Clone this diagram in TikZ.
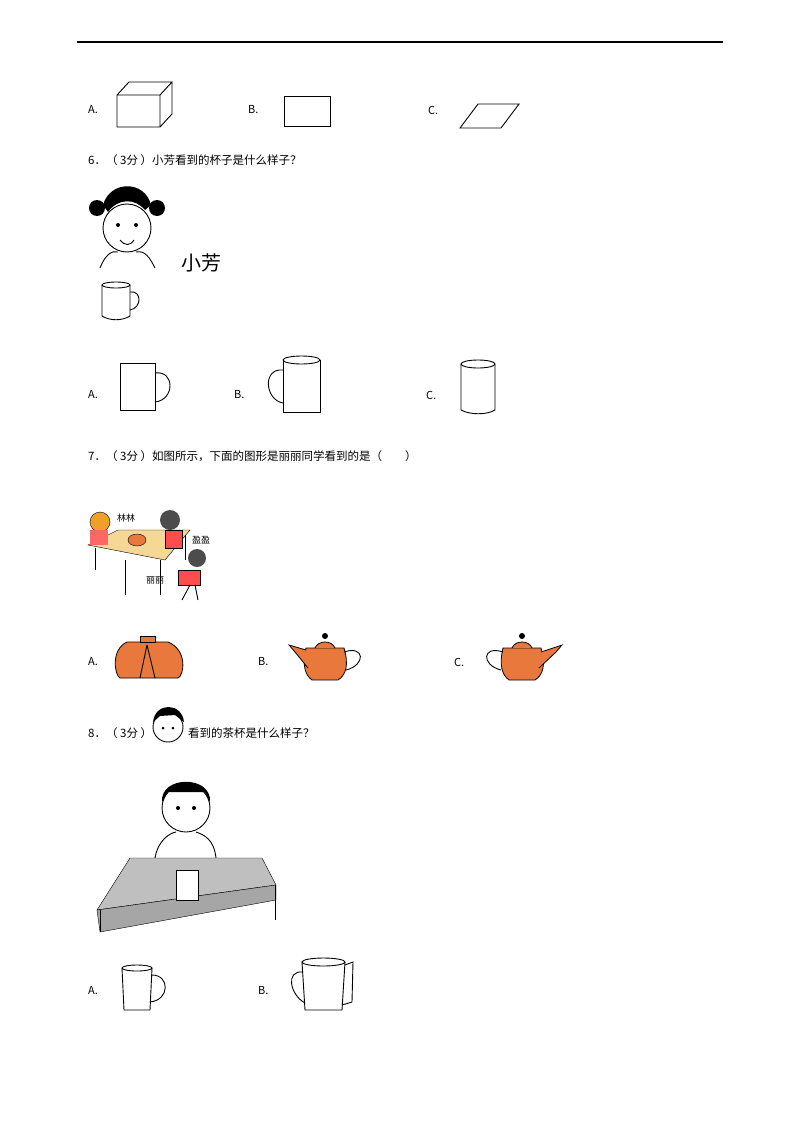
\documentclass[tikz,border=0pt]{standalone}
\usepackage{fontspec}
\setmainfont{Liberation Serif}
\newfontfamily\cjk{Noto Sans CJK SC}
\definecolor{pot}{RGB}{232,120,60}
\definecolor{wood}{RGB}{245,215,150}
\tikzset{lbl/.style={anchor=west,font=\cjk\fontsize{11}{13}\selectfont,inner sep=0},
 q/.style={anchor=west,font=\cjk\fontsize{11.5}{14}\selectfont,inner sep=0},
 ln/.style={line width=0.9pt,black},
 potf/.style={fill=pot,draw=black,line width=0.8pt}}
\begin{document}
\begin{tikzpicture}[x=1pt,y=-1pt]
\useasboundingbox (0,0) rectangle (800,1132);
\draw[line width=1.2pt] (77,42) -- (723,42);
% row 1
\node[lbl] (a1) at (88,110) {A.};
\draw[ln] (117,95) rectangle (160,127) (117,95) -- (129,82) -- (172,82) -- (160,95) (172,82) -- (172,114) -- (160,127);
\node[lbl] (b1) at (248,110) {B.};
\draw[ln] (284,96) rectangle (330,126);
\node[lbl] (c1) at (428,110) {C.};
\draw[ln] (460,128) -- (478,104) -- (519,104) -- (501,128) -- cycle;
% Q6
\node[q] (q6) at (88,160) {6．（ 3分 ）小芳看到的杯子是什么样子？};
\draw[ln] (127,228) circle (24);
\fill (103,205) .. controls (110,180) and (145,180) .. (151,205) -- (145,210) .. controls (135,198) and (118,198) .. (108,212) -- cycle;
\fill (97,208) circle (8) (157,208) circle (8);
\fill (118,225) circle (2) (136,225) circle (2);
\draw[ln] (120,240) .. controls (125,246) and (130,246) .. (134,240);
\draw[ln] (100,268) .. controls (105,255) and (112,250) .. (118,252) (136,252) .. controls (145,250) and (150,258) .. (155,268);
\node[anchor=west,font=\cjk\fontsize{20}{22}\selectfont] (xf) at (178,263) {小芳};
\draw[ln] (102,285) -- (102,316) .. controls (110,321) and (122,321) .. (130,316) -- (130,285);
\draw[ln] (116,285) ellipse (14 and 3);
\draw[ln] (130,292) .. controls (142,290) and (142,308) .. (130,310);
\node[lbl] (a2) at (88,395) {A.};
\draw[ln] (120,363) -- (120,410) -- (155,410) -- (155,363) -- cycle;
\draw[ln] (155,373) .. controls (175,370) and (175,400) .. (155,402);
\node[lbl] (b2) at (234,395) {B.};
\draw[ln] (283,360) -- (283,412) -- (320,412) -- (320,360);
\draw[ln] (301.5,360) ellipse (18.5 and 4);
\draw[ln] (283,370) .. controls (262,368) and (265,400) .. (283,403);
\node[lbl] (c2) at (426,395) {C.};
\draw[ln] (461,364) -- (461,410) .. controls (470,415) and (487,415) .. (495,410) -- (495,364);
\draw[ln] (478,364) ellipse (17 and 4);
% Q7
\node[q] (q7) at (88,456) {7．（ 3分 ）如图所示，下面的图形是丽丽同学看到的是（　　）};
\fill[wood,draw=black] (88,545) -- (118,530) -- (190,530) -- (165,560) -- cycle;
\draw[ln] (95,548) -- (95,570) (160,560) -- (160,595) (125,560) -- (125,595) (185,535) -- (185,560);
\fill[pot,draw=black] (137,540) ellipse (9 and 6);
\fill[pot!70!yellow,draw=black] (100,522) circle (10);
\fill[black!70] (170,520) circle (10);
\fill[red!70,draw=black] (165,530) rectangle (182,548);
\fill[black!70] (197,558) circle (9);
\fill[red!70,draw=black] (178,570) rectangle (200,585);
\draw[ln] (190,585) -- (182,600) (195,585) -- (198,600);
\fill[red!60] (90,530) rectangle (108,545);
\node[lbl,font=\cjk\fontsize{9}{10}\selectfont] (ll) at (117,518) {林林};
\node[lbl,font=\cjk\fontsize{9}{10}\selectfont] (yy) at (192,540) {盈盈};
\node[lbl,font=\cjk\fontsize{9}{10}\selectfont] (li) at (146,580) {丽丽};
\node[lbl] (a3) at (88,662) {A.};
\draw[potf] (127,642) .. controls (110,650) and (115,676) .. (120,678) -- (178,678) .. controls (184,676) and (188,650) .. (168,642) -- cycle;
\draw[potf] (140,636) rectangle (155,642);
\draw[ln] (147,645) -- (140,678) (147,645) -- (155,678);
\node[lbl] (b3) at (258,662) {B.};
\draw[potf] (306,648) .. controls (302,665) and (305,675) .. (312,680) -- (338,680) .. controls (346,675) and (349,665) .. (344,648) -- cycle;
\draw[potf] (306,650) -- (289,645) -- (295,652) -- (308,668);
\draw[ln] (344,652) .. controls (365,645) and (366,665) .. (346,670);
\draw[potf] (315,648) .. controls (318,640) and (332,640) .. (335,648);
\fill (325,636) circle (3);
\node[lbl] (c3) at (454,662) {C.};
\draw[potf] (503,648) .. controls (499,665) and (502,675) .. (509,680) -- (535,680) .. controls (543,675) and (546,665) .. (541,648) -- cycle;
\draw[potf] (541,652) -- (562,645) -- (556,652) -- (539,668);
\draw[ln] (503,652) .. controls (482,645) and (481,665) .. (501,670);
\draw[potf] (512,648) .. controls (515,640) and (529,640) .. (532,648);
\fill (522,636) circle (3);
% Q8
\node[q] (q8a) at (88,733) {8．（ 3分 ）};
\draw[ln] (168,727) circle (15);
\fill (153,722) .. controls (155,702) and (182,702) .. (184,722) -- (175,715) -- (160,716) -- cycle;
\fill (163,728) circle (1.5) (173,728) circle (1.5);
\node[q] (q8b) at (188,733) {看到的茶杯是什么样子？};
\draw[ln] (186,808) circle (24);
\fill (162,802) .. controls (160,775) and (212,775) .. (210,802) -- (205,792) -- (168,792) -- cycle;
\fill (178,808) circle (2) (194,808) circle (2);
\draw[ln] (155,858) .. controls (158,840) and (170,833) .. (176,832) (196,832) .. controls (205,835) and (214,840) .. (216,858);
\fill[black!25,draw=black] (130,858) -- (262,858) -- (276,885) -- (97,910) -- cycle;
\fill[black!35,draw=black] (97,910) -- (276,885) -- (276,900) -- (100,932) -- cycle;
\draw[ln] (275,885) -- (275,920) (100,932) -- (100,910);
\fill[white,draw=black] (176,870) rectangle (198,900);
\node[lbl] (a4) at (88,991) {A.};
\draw[ln] (122,968) -- (124,1010) -- (150,1010) -- (152,968);
\draw[ln] (137,968) ellipse (15 and 3);
\draw[ln] (152,975) .. controls (170,975) and (170,1000) .. (150,1002);
\node[lbl] (b4) at (258,991) {B.};
\draw[ln] (302,962) -- (305,1010) -- (342,1010) -- (345,962);
\draw[ln] (323.5,962) ellipse (21.5 and 4);
\draw[ln] (345,965) -- (353,962) -- (352,1002) -- (342,1005);
\draw[ln] (303,972) .. controls (285,970) and (290,995) .. (305,1003);
\end{tikzpicture}
\end{document}
